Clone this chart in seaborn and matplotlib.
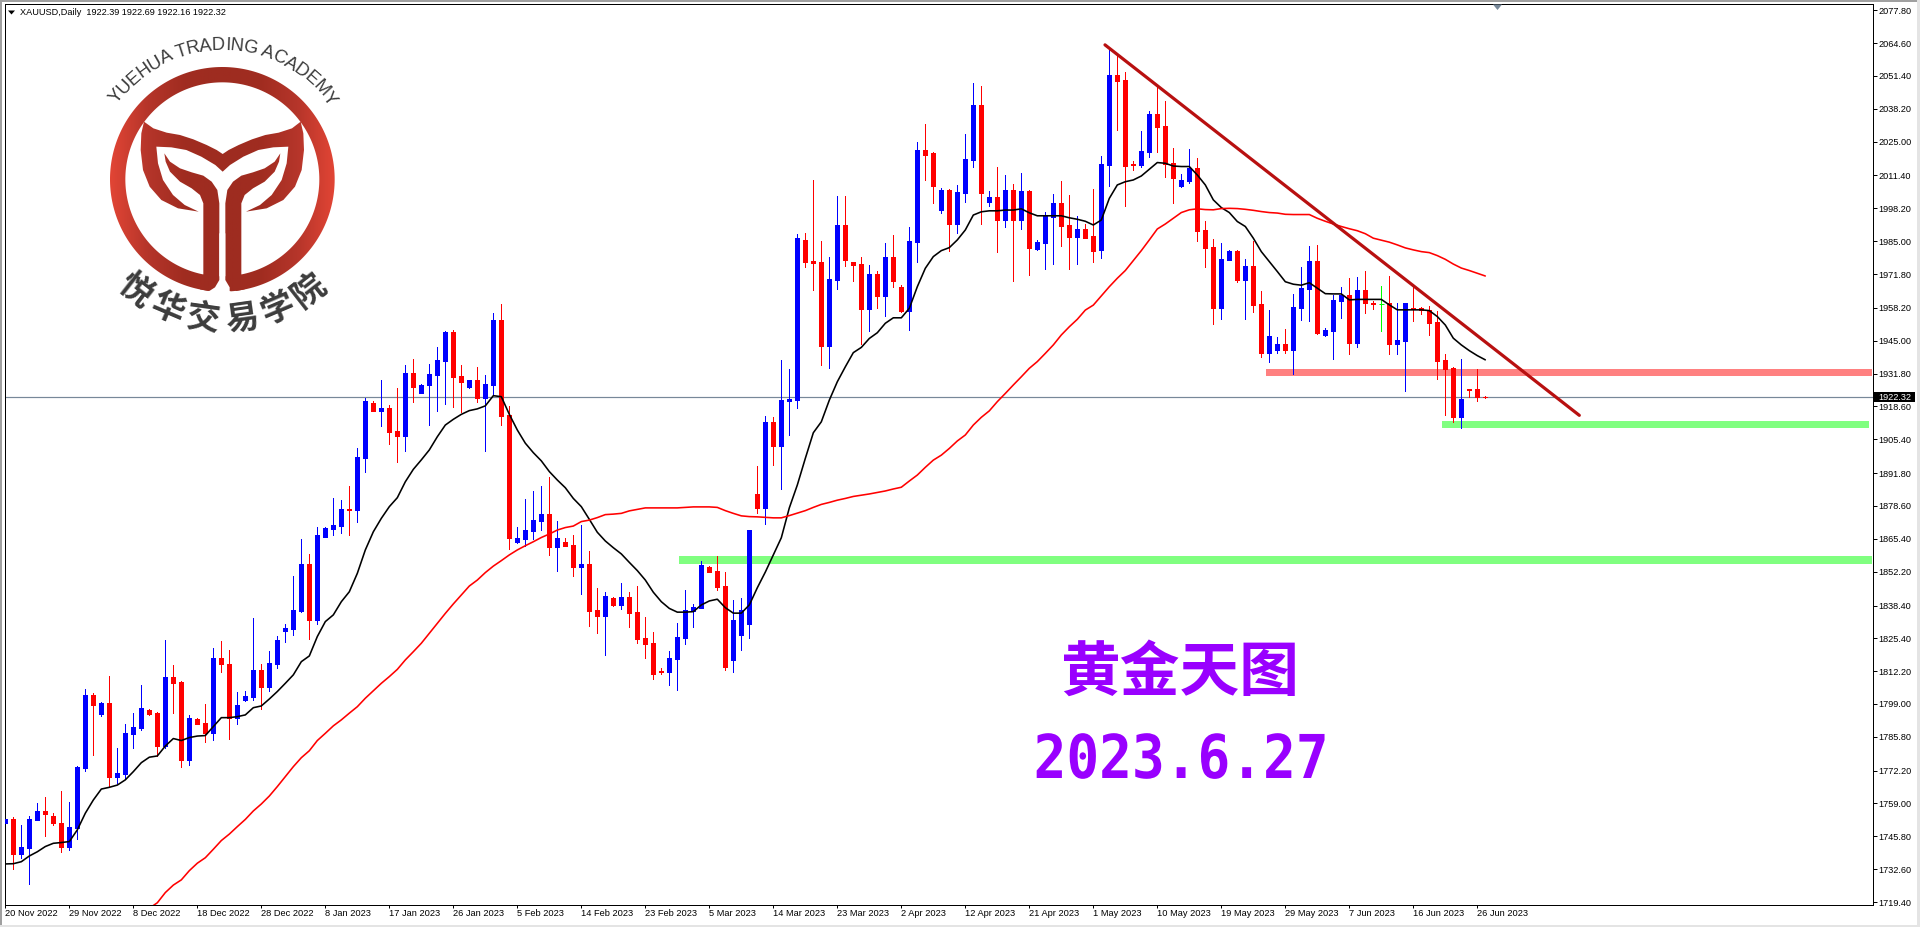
# XAUUSD daily candlestick chart with moving averages and drawn levels

import numpy as np
import pandas as pd
import matplotlib
matplotlib.use("Agg")
import matplotlib.pyplot as plt
import matplotlib.patheffects as pe
import seaborn as sns
from matplotlib.colors import LinearSegmentedColormap
from matplotlib.font_manager import FontProperties
from matplotlib.patches import PathPatch, Polygon, Rectangle
from matplotlib.path import Path
from matplotlib.textpath import text_to_path
from matplotlib.transforms import Affine2D

# Candles, one value per daily bar
opens = [
    1751.0, 1752.8, 1738.7, 1741.1, 1752.4, 1756.0, 1754.0, 1751.2, 1741.5, 1749.2,
    1773.3, 1802.6, 1795.0, 1799.4, 1769.7, 1770.9, 1786.9, 1789.4, 1796.6, 1795.4,
    1782.1, 1809.9, 1807.8, 1776.5, 1793.0, 1791.4, 1787.3, 1817.5, 1815.1, 1793.4,
    1800.6, 1801.8, 1812.7, 1805.8, 1815.1, 1828.3, 1829.1, 1836.4, 1855.3, 1832.8,
    1866.1, 1869.3, 1870.5, 1877.4, 1877.0, 1897.9, 1920.0, 1916.8, 1917.9, 1908.7,
    1906.7, 1932.0, 1924.0, 1927.2, 1931.2, 1936.8, 1948.5, 1930.8, 1926.4, 1929.2,
    1922.0, 1927.2, 1953.3, 1915.1, 1864.1, 1865.3, 1868.5, 1872.5, 1875.3, 1862.1,
    1864.1, 1862.9, 1854.0, 1855.2, 1836.8, 1834.4, 1841.6, 1838.8, 1842.0, 1836.0,
    1825.5, 1823.5, 1812.2, 1811.8, 1817.1, 1825.5, 1836.4, 1837.6, 1854.0, 1852.4,
    1846.4, 1816.6, 1826.7, 1831.1, 1883.4, 1877.8, 1912.4, 1902.7, 1920.7, 1921.2,
    1985.5, 1977.0, 1976.6, 1942.8, 1969.4, 1991.5, 1976.6, 1975.8, 1957.7, 1971.8,
    1962.9, 1978.6, 1966.6, 1956.9, 1984.6, 2021.6, 2020.4, 1997.5, 2005.5, 1991.9,
    2004.3, 2017.6, 2039.7, 2000.7, 2002.7, 1993.5, 2005.5, 1993.5, 2005.1, 1981.8,
    1984.2, 1994.7, 2000.3, 1991.5, 1986.7, 1989.9, 1987.1, 1981.5, 2015.6, 2051.8,
    2049.8, 2016.0, 2015.6, 2020.9, 2036.1, 2031.3, 2016.4, 2007.2, 2009.2, 2014.4,
    1989.5, 1982.7, 1958.2, 1977.5, 1981.1, 1969.4, 1975.0, 1959.8, 1940.1, 1941.3,
    1943.7, 1941.3, 1958.2, 1965.8, 1977.1, 1947.3, 1948.9, 1961.0, 1963.4, 1944.1,
    1965.4, 1960.2, 1960.2, 1960.2, 1943.7, 1944.9, 1958.2, 1958.2, 1957.4, 1952.5,
    1937.3, 1934.0, 1914.4, 1925.6, 1925.6, 1922.39,
]
highs = [
    1752.8, 1753.6, 1750.4, 1754.0, 1759.2, 1761.6, 1755.2, 1764.0, 1759.6, 1774.1,
    1805.0, 1803.4, 1799.8, 1810.3, 1781.3, 1791.0, 1795.4, 1806.6, 1797.0, 1795.8,
    1824.7, 1814.7, 1808.2, 1794.6, 1793.4, 1799.0, 1821.5, 1824.3, 1820.7, 1803.8,
    1804.2, 1833.6, 1815.1, 1820.3, 1826.3, 1831.2, 1850.4, 1865.3, 1859.3, 1870.1,
    1870.1, 1881.8, 1881.0, 1886.6, 1901.9, 1922.0, 1920.8, 1929.2, 1919.2, 1926.0,
    1935.2, 1937.6, 1927.6, 1935.6, 1942.5, 1948.9, 1949.3, 1935.2, 1929.2, 1934.4,
    1931.2, 1956.1, 1959.8, 1918.7, 1870.1, 1881.4, 1884.6, 1886.6, 1890.2, 1872.5,
    1865.7, 1866.9, 1870.9, 1860.5, 1845.6, 1844.0, 1842.0, 1847.6, 1844.0, 1846.4,
    1834.0, 1827.9, 1813.4, 1820.3, 1831.5, 1844.8, 1839.2, 1856.5, 1854.4, 1858.5,
    1852.0, 1840.8, 1841.6, 1868.9, 1894.7, 1914.8, 1914.4, 1937.3, 1933.6, 1987.9,
    1988.3, 2009.6, 1985.0, 1978.6, 2003.1, 2003.1, 1976.6, 1978.6, 1975.4, 1973.0,
    1984.2, 1987.5, 1967.4, 1990.7, 2024.8, 2032.1, 2020.8, 2006.3, 2005.9, 2007.6,
    2028.0, 2048.6, 2047.3, 2005.1, 2014.8, 2011.6, 2008.0, 2012.4, 2005.5, 1985.5,
    1996.7, 2003.9, 2009.2, 2003.5, 1995.1, 1991.9, 2005.9, 2019.3, 2061.9, 2059.9,
    2053.0, 2017.2, 2029.3, 2037.3, 2047.8, 2041.4, 2022.5, 2012.0, 2022.1, 2018.4,
    1993.1, 1985.9, 1984.3, 1981.5, 1981.5, 1977.9, 1985.1, 1965.0, 1957.4, 1946.5,
    1949.7, 1963.8, 1974.6, 1983.1, 1983.5, 1950.1, 1963.4, 1966.6, 1970.2, 1970.6,
    1973.0, 1961.0, 1967.0, 1971.0, 1960.2, 1960.2, 1967.0, 1958.6, 1958.9, 1956.9,
    1939.7, 1934.4, 1937.7, 1925.6, 1933.6, 1922.69,
]
lows = [
    1751.0, 1732.7, 1737.1, 1726.6, 1752.4, 1745.9, 1750.4, 1739.5, 1740.3, 1744.7,
    1772.1, 1778.5, 1794.2, 1765.6, 1767.1, 1768.9, 1781.3, 1788.6, 1794.6, 1778.1,
    1781.3, 1795.4, 1773.7, 1774.5, 1791.0, 1783.7, 1784.5, 1811.9, 1784.9, 1791.0,
    1800.2, 1800.6, 1797.0, 1804.2, 1813.5, 1823.9, 1826.7, 1836.0, 1825.1, 1831.2,
    1866.1, 1866.9, 1867.7, 1866.9, 1872.1, 1892.2, 1916.8, 1910.7, 1903.5, 1896.2,
    1900.7, 1920.4, 1924.0, 1911.1, 1916.8, 1919.6, 1918.4, 1916.3, 1926.0, 1920.4,
    1900.7, 1923.6, 1911.1, 1861.3, 1863.6, 1862.5, 1865.3, 1868.9, 1858.9, 1852.4,
    1862.5, 1850.4, 1843.2, 1830.3, 1827.5, 1818.7, 1838.4, 1837.2, 1829.9, 1823.5,
    1817.5, 1809.0, 1811.0, 1806.6, 1804.6, 1823.1, 1829.9, 1837.6, 1852.0, 1844.8,
    1812.6, 1811.8, 1820.7, 1825.5, 1875.8, 1871.4, 1895.1, 1885.4, 1907.1, 1917.9,
    1974.6, 1965.4, 1935.2, 1934.0, 1965.8, 1975.0, 1969.0, 1943.6, 1948.9, 1958.1,
    1954.9, 1966.6, 1956.5, 1949.3, 1976.6, 2009.6, 2000.3, 1996.3, 1981.0, 1988.3,
    2000.7, 2014.8, 1991.9, 1999.1, 1980.6, 1990.7, 1969.0, 1989.9, 1971.4, 1981.4,
    1973.8, 1975.8, 1983.0, 1973.8, 1975.8, 1986.3, 1976.6, 1978.3, 2007.2, 2029.7,
    1999.2, 2013.6, 2014.8, 2018.9, 2020.9, 2010.8, 2000.4, 2006.8, 2008.4, 1985.1,
    1974.6, 1951.7, 1953.7, 1977.5, 1968.6, 1953.7, 1956.6, 1938.5, 1936.5, 1940.1,
    1940.1, 1931.6, 1953.3, 1952.9, 1947.7, 1946.9, 1937.7, 1954.1, 1939.7, 1942.5,
    1956.2, 1957.8, 1948.9, 1939.7, 1939.7, 1924.8, 1952.9, 1955.8, 1947.3, 1929.6,
    1915.2, 1912.3, 1909.9, 1922.4, 1920.8, 1922.16,
]
closes = [
    1752.8, 1738.7, 1741.5, 1752.8, 1756.0, 1754.8, 1751.2, 1741.5, 1749.6, 1773.7,
    1802.6, 1798.6, 1799.4, 1769.7, 1771.3, 1787.3, 1789.8, 1797.4, 1795.0, 1782.1,
    1809.9, 1807.4, 1776.5, 1793.4, 1791.0, 1787.3, 1817.5, 1815.1, 1793.4, 1798.6,
    1802.2, 1812.7, 1805.8, 1815.5, 1824.7, 1829.5, 1836.8, 1855.3, 1832.8, 1866.9,
    1869.7, 1870.9, 1877.4, 1877.0, 1898.3, 1920.8, 1916.8, 1917.9, 1908.3, 1906.7,
    1932.0, 1926.4, 1927.2, 1931.6, 1937.2, 1948.5, 1930.4, 1928.4, 1929.2, 1922.0,
    1927.6, 1953.3, 1914.7, 1865.7, 1865.7, 1868.9, 1872.9, 1875.3, 1862.1, 1865.7,
    1862.5, 1854.0, 1855.2, 1836.4, 1834.4, 1842.4, 1838.8, 1842.0, 1835.6, 1825.1,
    1823.1, 1811.0, 1811.8, 1817.5, 1825.9, 1836.8, 1838.0, 1854.8, 1852.0, 1846.0,
    1813.8, 1832.7, 1836.8, 1868.9, 1877.8, 1912.4, 1902.7, 1921.2, 1921.6, 1986.3,
    1976.6, 1976.2, 1942.8, 1969.8, 1991.5, 1977.4, 1975.4, 1957.7, 1971.8, 1962.9,
    1978.6, 1969.0, 1956.9, 1985.0, 2021.6, 2019.6, 2007.2, 2005.5, 1991.9, 2004.7,
    2018.0, 2039.7, 2004.3, 2002.7, 1993.5, 2005.5, 1993.5, 2005.1, 1982.2, 1984.6,
    1995.1, 2000.3, 1991.1, 1986.7, 1989.9, 1986.3, 1981.0, 2016.0, 2051.8, 2049.4,
    2015.2, 2015.6, 2021.3, 2036.1, 2030.9, 2016.0, 2010.4, 2009.6, 2014.4, 1989.1,
    1982.3, 1958.2, 1977.9, 1981.1, 1969.4, 1975.0, 1959.4, 1940.1, 1946.9, 1943.7,
    1941.3, 1958.6, 1966.2, 1977.1, 1948.1, 1949.3, 1961.4, 1963.4, 1944.1, 1965.4,
    1960.2, 1959.8, 1959.8, 1943.7, 1945.3, 1960.2, 1957.8, 1957.4, 1952.1, 1936.9,
    1933.6, 1914.4, 1921.6, 1925.2, 1922.4, 1922.32,
]
lime_bars = [172]

# Moving averages
ma_fast = [
    1734.7, 1734.8, 1735.6, 1737.9, 1739.6, 1741.7, 1743.0, 1743.3, 1743.7, 1748.4,
    1755.1, 1760.4, 1764.8, 1765.5, 1766.4, 1768.5, 1771.8, 1775.4, 1777.6, 1778.1,
    1782.1, 1785.1, 1784.3, 1785.5, 1786.1, 1786.3, 1789.9, 1793.5, 1793.5, 1793.9,
    1794.6, 1797.5, 1798.2, 1801.0, 1804.0, 1807.3, 1810.7, 1816.0, 1818.3, 1826.1,
    1832.1, 1834.8, 1840.1, 1844.1, 1851.5, 1860.9, 1868.2, 1873.6, 1878.3, 1881.9,
    1888.3, 1893.3, 1897.1, 1901.1, 1906.4, 1911.1, 1913.4, 1915.4, 1916.9, 1917.6,
    1918.8, 1922.9, 1922.5, 1915.4, 1909.1, 1903.8, 1900.0, 1896.7, 1892.4, 1889.0,
    1885.9, 1881.6, 1878.3, 1873.2, 1868.0, 1864.5, 1861.8, 1859.3, 1855.9, 1852.6,
    1848.8, 1843.9, 1840.1, 1837.4, 1835.9, 1835.9, 1836.1, 1838.8, 1840.4, 1841.1,
    1837.7, 1835.5, 1835.5, 1838.8, 1845.7, 1852.0, 1858.9, 1865.8, 1877.8, 1887.0,
    1897.7, 1908.0, 1912.4, 1921.1, 1928.5, 1934.5, 1940.2, 1942.3, 1945.9, 1948.2,
    1952.0, 1954.2, 1954.2, 1958.0, 1966.7, 1974.1, 1978.8, 1981.2, 1982.4, 1985.5,
    1989.5, 1995.5, 1996.8, 1997.2, 1997.2, 1997.5, 1997.5, 1998.0, 1996.4, 1995.2,
    1995.2, 1995.2, 1995.2, 1994.4, 1993.8, 1993.0, 1991.5, 1993.5, 2002.2, 2007.6,
    2008.9, 2009.6, 2011.2, 2013.9, 2016.6, 2016.3, 2015.2, 2015.0, 2015.0, 2011.6,
    2007.6, 2001.6, 1998.5, 1996.5, 1992.9, 1990.9, 1986.2, 1980.8, 1976.8, 1972.8,
    1968.7, 1967.7, 1967.3, 1968.3, 1966.1, 1963.9, 1963.8, 1963.8, 1961.4, 1961.6,
    1961.6, 1961.6, 1961.6, 1959.4, 1957.4, 1957.4, 1957.4, 1957.4, 1957.1, 1954.7,
    1951.3, 1946.0, 1943.3, 1941.0, 1939.0, 1937.3,
]
# The slow average enters the picture at bar 18
ma_slow_first_bar = 18
ma_slow = [
    1716.9, 1719.1, 1723.2, 1726.2, 1728.3, 1732.0, 1735.0, 1737.2, 1740.6, 1744.1,
    1746.7, 1749.7, 1752.6, 1756.0, 1758.8, 1762.0, 1765.8, 1769.8, 1773.8, 1777.4,
    1780.2, 1784.3, 1787.2, 1790.2, 1792.6, 1795.3, 1797.9, 1801.3, 1804.3, 1807.3,
    1810.0, 1812.9, 1816.7, 1820.0, 1823.4, 1827.4, 1831.4, 1835.4, 1839.2, 1842.8,
    1846.4, 1848.8, 1851.8, 1854.4, 1856.6, 1858.9, 1860.9, 1862.6, 1864.2, 1865.9,
    1867.3, 1868.9, 1869.9, 1870.5, 1872.3, 1872.9, 1873.9, 1875.1, 1875.3, 1875.6,
    1876.6, 1877.2, 1877.8, 1877.8, 1877.8, 1877.8, 1877.8, 1878.0, 1878.2, 1878.2,
    1878.2, 1878.0, 1876.7, 1875.6, 1874.6, 1874.3, 1874.2, 1874.0, 1873.8, 1873.8,
    1874.7, 1875.7, 1876.7, 1878.0, 1879.2, 1880.0, 1880.9, 1881.6, 1882.4, 1882.9,
    1883.4, 1884.0, 1884.6, 1885.4, 1886.1, 1888.6, 1891.0, 1894.1, 1897.0, 1899.0,
    1901.7, 1904.7, 1907.1, 1911.1, 1914.2, 1916.8, 1920.5, 1923.8, 1927.2, 1930.5,
    1933.9, 1936.6, 1939.9, 1943.3, 1947.3, 1950.6, 1953.6, 1957.3, 1959.3, 1963.0,
    1966.7, 1970.1, 1973.2, 1977.2, 1981.2, 1985.5, 1989.9, 1991.9, 1994.2, 1996.5,
    1997.6, 1998.0, 1997.7, 1997.6, 1998.1, 1998.2, 1998.1, 1997.8, 1997.4, 1996.9,
    1996.5, 1996.3, 1995.8, 1995.7, 1995.7, 1995.7, 1994.2, 1993.0, 1991.9, 1990.9,
    1990.0, 1989.2, 1988.0, 1986.2, 1985.4, 1984.6, 1983.5, 1982.3, 1981.5, 1980.8,
    1980.4, 1979.2, 1977.7, 1975.8, 1974.2, 1973.2, 1972.1, 1971.0,
]

# Drawn objects on the chart: bar positions and prices
trend_bars = [137.46, 196.75]
trend_prices = [2063.9, 1915.0]
pink_zone = (157.6, 233.4, 1930.8, 1933.6)   # bar from, bar to, price low, price high
green_zone_near = (179.6, 233.0, 1909.9, 1912.7)
green_zone_far = (84.2, 233.4, 1855.3, 1858.5)
last_price = 1922.32

# Axis ticks
price_ticks = [
    2077.80, 2064.60, 2051.40, 2038.20, 2025.00, 2011.40, 1998.20, 1985.00, 1971.80,
    1958.20, 1945.00, 1931.80, 1918.60, 1905.40, 1891.80, 1878.60, 1865.40, 1852.20,
    1838.40, 1825.40, 1812.20, 1799.00, 1785.80, 1772.20, 1759.00, 1745.80, 1732.60, 1719.40,
]
date_labels = [
    "20 Nov 2022", "29 Nov 2022", "8 Dec 2022", "18 Dec 2022", "28 Dec 2022", "8 Jan 2023",
    "17 Jan 2023", "26 Jan 2023", "5 Feb 2023", "14 Feb 2023", "23 Feb 2023", "5 Mar 2023",
    "14 Mar 2023", "23 Mar 2023", "2 Apr 2023", "12 Apr 2023", "21 Apr 2023", "1 May 2023",
    "10 May 2023", "19 May 2023", "29 May 2023", "7 Jun 2023", "16 Jun 2023", "26 Jun 2023",
]
date_step = 8

sns.set_theme(style="white")
plt.rcParams["font.family"] = ["Liberation Sans", "DejaVu Sans"]

W, H = 1920, 927
PX = 0.72  # one pixel in points at dpi 100


# Makes the date caption taller than the font draws it
class TallText(pe.AbstractPathEffect):
    def draw_path(self, renderer, gc, tpath, affine, rgbFace=None):
        renderer.draw_path(gc, tpath, Affine2D().scale(1, 1.11) + affine, rgbFace)


df = pd.DataFrame({"bar": np.arange(len(opens)), "open": opens, "high": highs,
                   "low": lows, "close": closes, "ma_fast": ma_fast})
df["color"] = np.where(df["close"] >= df["open"], "#0000ff", "#ff0000")
df.loc[lime_bars, "color"] = "#00ff00"
slow = pd.DataFrame({"bar": np.arange(len(ma_slow)) + ma_slow_first_bar, "ma_slow": ma_slow})

fig = plt.figure(figsize=(W / 100, H / 100), dpi=100, facecolor="white")
ax = fig.add_axes([4.5 / W, (H - 904.5) / H, 1868 / W, 900.2 / H], zorder=1)
ax.set_xlim(-0.104, 233.4)
ax.set_ylim(1718.4, 2080.2)

# Levels behind the candles
for x0, x1, y0, y1, c in [(*pink_zone, "#ff8080"), (*green_zone_near, "#80ff80"),
                          (*green_zone_far, "#80ff80")]:
    ax.add_patch(Rectangle((x0, y0), x1 - x0, y1 - y0, color=c, lw=0, zorder=1))
ax.axhline(last_price, color="#778899", lw=PX * 1.2, zorder=1.5)

# Candles
ax.vlines(df["bar"], df["low"], df["high"], colors=df["color"], lw=PX, zorder=2, antialiased=False)
bodies = df[df["bar"] != lime_bars[0]]
ax.bar(bodies["bar"], (bodies["close"] - bodies["open"]).abs(),
       bottom=bodies[["open", "close"]].min(axis=1), width=0.5,
       color=bodies["color"], edgecolor=bodies["color"], linewidth=PX,
       zorder=3, antialiased=False)
lime = df[df["bar"] == lime_bars[0]]
ax.hlines(lime["close"], lime["bar"] - 0.3, lime["bar"] + 0.3, colors="#00ff00", lw=PX, zorder=3)

# Moving averages
sns.lineplot(data=df, x="bar", y="ma_fast", color="black", lw=PX * 1.6, ax=ax, zorder=4,
             estimator=None, legend=False)
sns.lineplot(data=slow, x="bar", y="ma_slow", color="#ff0000", lw=PX * 1.6, ax=ax, zorder=4,
             estimator=None, legend=False)

# Trend line
ax.plot(trend_bars, trend_prices, color="#b81010", lw=PX * 3.2, zorder=5, solid_capstyle="round")

ax.set_xlabel("")
ax.set_ylabel("")
ax.yaxis.tick_right()
ax.set_yticks(price_ticks)
ax.set_yticklabels([f"{v:.2f}" for v in price_ticks])
ax.set_xticks(np.arange(len(date_labels)) * date_step)
ax.set_xticklabels(date_labels, ha="left")
ax.tick_params(axis="y", length=2.9, width=PX, pad=1.2, labelsize=6.6, color="black",
               labelcolor="black", right=True)
ax.tick_params(axis="x", length=2.4, width=PX, pad=0.6, labelsize=6.7, color="black",
               labelcolor="black", bottom=True)
for s in ax.spines.values():
    s.set_linewidth(PX)
    s.set_color("black")

# Overlay in window pixels: logo, captions, price box
ov = fig.add_axes([0, 0, 1, 1], zorder=2, facecolor="none")
ov.set_xlim(0, W)
ov.set_ylim(H, 0)
ov.axis("off")

for rect, c in [((0, 0, W, 2), "#a0a0a0"), ((0, 0, 2, H), "#a0a0a0"),
                ((0, 925, W, 2), "#e4e4e4"), ((1917, 0, 3, H), "#e4e4e4")]:
    ov.add_patch(Rectangle(rect[:2], rect[2], rect[3], color=c, lw=0))

ov.add_patch(Polygon([(1493, 4.5), (1502, 4.5), (1497.5, 10)], color="#778899", lw=0))
ov.add_patch(Polygon([(8, 10.5), (15, 10.5), (11.5, 14.5)], color="black", lw=0))
ov.text(20, 12.7, "XAUUSD,Daily  1922.39 1922.69 1922.16 1922.32", fontsize=6.6,
        color="black", va="center", ha="left")

ov.add_patch(Rectangle((1874, 392), 41, 10, color="black", lw=0, zorder=5))
ov.text(1878, 397, f"{last_price:.2f}", fontsize=6.6, color="white", va="center", ha="left", zorder=6)

# Logo, outlines taken from a 3x view of the picture
cx3, cy3 = 667, 538
t = np.linspace(0, 2 * np.pi, 240)
outer = np.c_[cx3 + 337 * np.cos(t), cy3 + 337 * np.sin(t)]
inner = np.c_[cx3 + 291 * np.cos(t[::-1]), cy3 + 291 * np.sin(t[::-1])]
ring = Path.make_compound_path(Path(outer / 3), Path(inner / 3))
wings = np.array([
    (432, 365), (460, 385), (500, 398), (540, 405), (580, 418), (620, 435), (650, 450), (668, 462),
    (686, 450), (716, 435), (756, 418), (796, 405), (836, 398), (876, 385), (902, 365),
    (910, 400), (912, 450), (905, 510), (885, 560), (850, 600), (800, 625), (738, 635),
    (780, 615), (815, 585), (845, 540), (860, 490), (865, 440), (820, 442), (775, 450), (730, 470),
    (690, 495), (668, 515), (646, 495), (604, 470), (559, 450), (514, 442), (469, 440),
    (474, 490), (489, 540), (519, 585), (554, 615), (596, 635), (534, 625), (484, 600),
    (449, 560), (429, 510), (422, 450), (424, 400),
]) / 3
trunk_l = np.array([
    (493, 460), (510, 485), (540, 505), (575, 517), (610, 527), (635, 545), (652, 570), (658, 610),
    (658, 840), (645, 862), (625, 873), (600, 868), (610, 822), (610, 610), (600, 585),
    (575, 565), (540, 545), (510, 515), (497, 485),
], dtype=float) / 3
trunk_r = trunk_l.copy()
trunk_r[:, 0] = 1334 / 3 - trunk_r[:, 0]
logo_cmap = LinearSegmentedColormap.from_list(
    "logo", ["#e24535", "#b5352a", "#a02c20", "#9e2c20", "#a02c20", "#b5352a", "#e24535"])
gradient = np.linspace(0, 1, 256).reshape(1, -1)
for shape in [ring, Path(wings), Path(trunk_l), Path(trunk_r)]:
    im = ov.imshow(gradient, cmap=logo_cmap, extent=[110, 335, 292, 67], aspect="auto", zorder=2)
    im.set_clip_path(PathPatch(shape, transform=ov.transData))
ov.add_patch(Polygon(np.array([(658, 700), (658, 840), (645, 862), (628, 873), (628, 885), (706, 885),
                               (689, 873), (689, 862), (676, 840), (676, 700)]) / 3,
                     color="white", lw=0, zorder=3))
ov.set_xlim(0, W)
ov.set_ylim(H, 0)

logo_x, logo_y = cx3 / 3, cy3 / 3
arc_font = FontProperties(family="Liberation Sans", size=13.2)
arc_text = "YUEHUA TRADING ACADEMY"
widths = np.array([text_to_path.get_text_width_height_descent(ch, arc_font, False)[0] for ch in arc_text])
centers = np.cumsum(widths) - widths / 2
centers = (centers - centers[0]) / (centers[-1] - centers[0])
for ch, u in zip(arc_text, centers):
    a = np.radians(-52 + 105 * u)
    ov.text(logo_x + 134 * np.sin(a), logo_y - 134 * np.cos(a), ch, fontproperties=arc_font,
            color="#3c3c3c", ha="center", va="center", rotation=-np.degrees(a),
            rotation_mode="anchor", zorder=4)
for ch, deg in zip("悦华交易学院", [-38, -23, -8, 8, 23, 38]):
    a = np.radians(deg)
    ov.text(logo_x + 141 * np.sin(a), logo_y + 141 * np.cos(a), ch, family=["Noto Sans CJK SC"],
            fontsize=24, fontweight="bold", color="#3c3c3c", ha="center", va="center",
            rotation=deg, rotation_mode="anchor", zorder=4)

# Captions
ov.text(1179.5, 674, "黄金天图", family=["Noto Sans CJK SC"], fontsize=43, fontweight="bold",
        color="#9900ff", ha="center", va="center")
ov.text(1181, 778, "2023.6.27", family=["DejaVu Sans Mono"], fontsize=39.2, fontweight="bold",
        color="#9900ff", ha="center", va="baseline", path_effects=[TallText()])

fig.savefig("out.png", dpi=100)
